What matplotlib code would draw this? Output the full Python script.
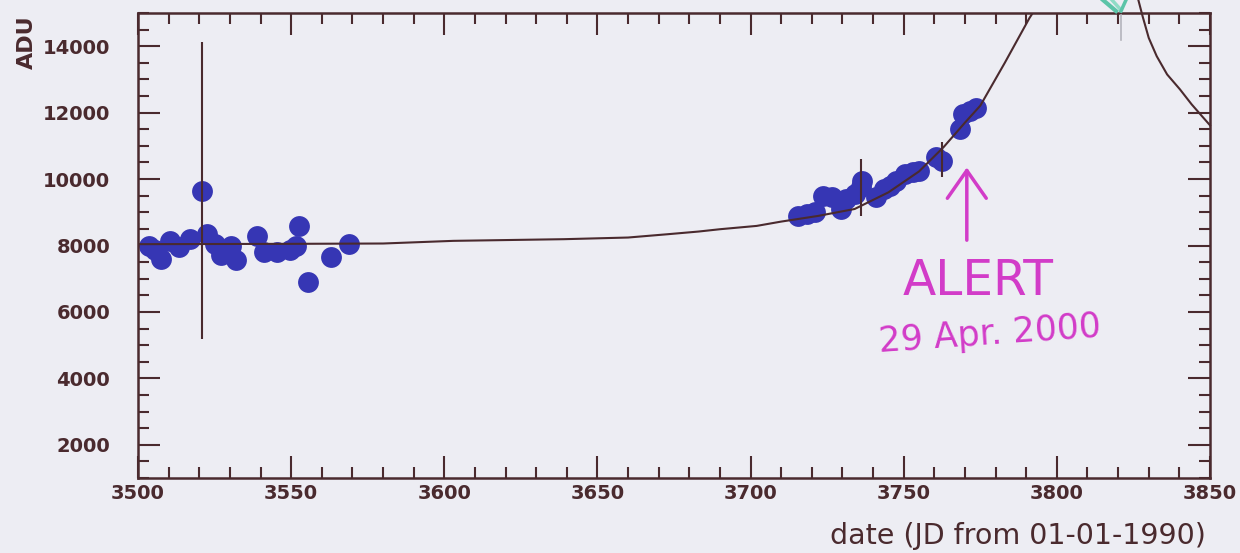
import matplotlib
matplotlib.use("Agg")
import matplotlib.pyplot as plt
from matplotlib.lines import Line2D
from matplotlib.ticker import MultipleLocator
import numpy as np

# photometry points (date, ADU)
x_base = [3503.5, 3505.5, 3507.5, 3510.5, 3513.5, 3517.0, 3521.0, 3522.5, 3525.0,
          3527.0, 3530.5, 3532.0, 3539.0, 3541.0, 3545.5, 3549.5, 3551.5, 3552.5,
          3555.5, 3563.0, 3569.0]
y_base = [8000, 7850, 7600, 8150, 7950, 8200, 9650, 8350, 8050,
          7700, 8000, 7550, 8300, 7800, 7800, 7850, 8000, 8600,
          6900, 7650, 8050]

x_rise = [3715.5, 3718.5, 3721.0, 3723.5, 3726.5, 3729.5, 3731.0, 3734.0, 3736.0,
          3736.5, 3741.0, 3743.5, 3745.5, 3747.5, 3750.5, 3753.0, 3755.0, 3760.5,
          3762.5, 3768.5, 3769.5, 3771.5, 3773.5]
y_rise = [8900, 8960, 9000, 9500, 9450, 9100, 9400, 9550, 9750,
          9950, 9450, 9700, 9800, 9950, 10150, 10200, 10250, 10650,
          10550, 11500, 11950, 12050, 12150]

# error bars drawn on a few points
err_x = [3521.0, 3736.0, 3762.5]
err_y = [9650, 9750, 10600]
err_dy = [4480, 850, 530]

# fitted curve, rising branch and falling branch
fit_x = [3500, 3550, 3580, 3603, 3639, 3660, 3673, 3683, 3690, 3702, 3710,
         3722, 3734, 3745, 3755, 3763, 3770, 3775, 3783, 3791, 3797]
fit_y = [8040, 8050, 8060, 8140, 8190, 8240, 8340, 8420, 8490, 8590, 8720,
         8890, 9100, 9600, 10230, 10960, 11700, 12210, 13500, 14840, 15700]
fall_x = [3826.5, 3828.0, 3830.0, 3832.6, 3836.0, 3840.2, 3844.0, 3847.8, 3850.0]
fall_y = [15430, 14900, 14250, 13700, 13150, 12700, 12250, 11850, 11620]

bg = '#ededf3'
ink = '#4a2a2e'
dot = '#3636b4'
pen = '#d23cc8'

fig = plt.figure(figsize=(12.4, 5.53), dpi=100, facecolor=bg)
ax = fig.add_axes([138/1240, 75/553, 1072/1240, 465/553], facecolor=bg)

ax.plot(x_base + x_rise, y_base + y_rise, 'o', color=dot, markersize=15,
        markeredgewidth=0, zorder=2)
ax.errorbar(err_x, err_y, yerr=err_dy, fmt='none', ecolor=ink, elinewidth=1.5,
            capsize=0, zorder=3)
ax.plot(fit_x, fit_y, color=ink, lw=1.5, zorder=4)
ax.plot(fall_x, fall_y, color=ink, lw=1.5, zorder=4, clip_on=False)

ax.set_xlim(3500, 3850)
ax.set_ylim(1000, 15000)
ax.xaxis.set_major_locator(MultipleLocator(50))
ax.xaxis.set_minor_locator(MultipleLocator(10))
ax.set_yticks(np.arange(2000, 14001, 2000))
ax.yaxis.set_minor_locator(MultipleLocator(500))

for s in ax.spines.values():
    s.set_color(ink)
    s.set_linewidth(1.8)
ax.tick_params(which='both', direction='in', top=True, right=True, color=ink,
               width=1.5, labelcolor=ink, labelsize=14)
ax.tick_params(which='major', length=16)
ax.tick_params(which='minor', length=8)
ax.tick_params(axis='x', pad=4)
ax.tick_params(axis='y', pad=20)
for lab in ax.get_xticklabels() + ax.get_yticklabels():
    lab.set_fontweight('bold')

fig.text(1206/1240, 1 - 536/553, 'date (JD from 01-01-1990)', ha='right',
         va='center', fontsize=20.5, color=ink, fontweight='medium')
fig.text(27/1240, 1 - 42/553, 'ADU', rotation=90, ha='center', va='center',
         fontsize=16, fontweight='bold', color=ink)

# hand-written alert annotation
ax.annotate('', xy=(3770.6, 10350), xytext=(3770.6, 8160),
            arrowprops=dict(arrowstyle='->,head_length=1.0,head_width=0.7',
                            color=pen, lw=2.5, mutation_scale=20,
                            shrinkA=0, shrinkB=0), zorder=5)
hand = ['Liberation Sans Narrow', 'DejaVu Sans']
ax.text(3774.2, 6940, 'ALERT', ha='center', va='center', fontsize=35,
        color=pen, family=hand)
ax.text(3778.2, 5330, '29 Apr. 2000', ha='center', va='center', fontsize=25,
        color=pen, family=hand, rotation=4)

# stray pen marks above the frame
W, H = 1240, 553
for (x0, y0), (x1, y1), c, w in [((1103, 0), (1116, 11), '#5cc4a8', 3.0),
                                 ((1112, 0), (1121, 10), '#8fdcc6', 2.5),
                                 ((1126, 0), (1121, 11), '#5cc4a8', 2.5),
                                 ((1121, 15), (1121, 40), '#b4b4bc', 1.2)]:
    fig.add_artist(Line2D([x0 / W, x1 / W], [1 - y0 / H, 1 - y1 / H],
                          color=c, lw=w, transform=fig.transFigure))

fig.savefig('out.png', dpi=100, facecolor=bg)
